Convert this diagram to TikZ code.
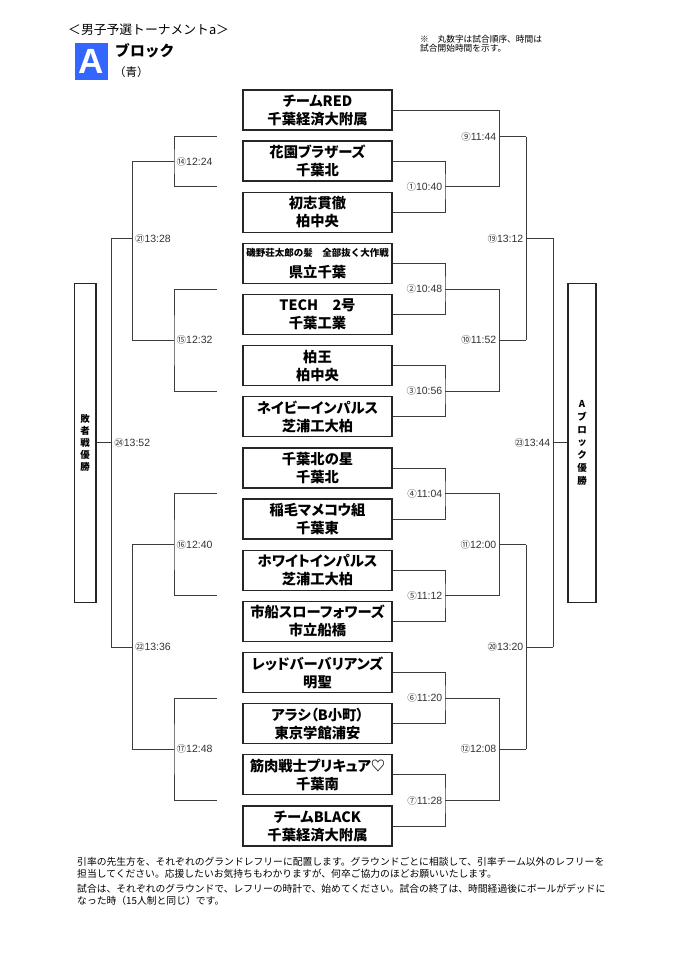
\documentclass[tikz,border=0pt]{standalone}
\usepackage{fontspec}
\setmainfont{Liberation Sans}
\newfontfamily\jp{Noto Sans CJK JP}
\newfontfamily\jpp[RawFeature=+palt]{Noto Sans CJK JP}
\usetikzlibrary{calc}
\definecolor{blockblue}{RGB}{51,102,255}
\definecolor{wirecol}{RGB}{60,60,60}
\newcommand\cn[1]{{\jp\fontsize{9.5}{10}\selectfont #1}}
\tikzset{
  team/.style={draw=black!85, line width=1.3pt, minimum width=149pt, minimum height=40pt,
    inner sep=0pt, align=center, font=\jpp\bfseries\fontsize{14.3}{18}\selectfont},
  sidebox/.style={draw=black!85, line width=1.3pt, inner sep=0pt, align=center},
  wire/.style={draw=wirecol, line width=0.9pt},
  lblR/.style={anchor=east, inner sep=1pt, text=black!80, font=\fontsize{10.5}{12}\selectfont},
  lblL/.style={anchor=west, inner sep=1pt, text=black!80, font=\fontsize{10.5}{12}\selectfont},
  txt/.style={inner sep=0pt}
}
\begin{document}
\begin{tikzpicture}[x=1pt,y=-1pt]
\useasboundingbox (0,0) rectangle (678,960);
\fill[white] (0,0) rectangle (678,960);

% header
\node[txt, anchor=west, font=\jp\fontsize{12.8}{14}\selectfont] (hdr) at (68,30) {＜男子予選トーナメントa＞};
\node[fill=blockblue, minimum width=33pt, minimum height=37pt, inner sep=0pt,
  font=\fontsize{35}{35}\selectfont\bfseries, text=white] (blk) at (91.5,61.5) {A};
\node[txt, anchor=west, font=\jp\bfseries\fontsize{14.8}{16}\selectfont] (blkname) at (115,51) {ブロック};
\node[txt, anchor=west, font=\jp\fontsize{11.5}{12}\selectfont] (blkcol) at (114,72.5) {（青）};
\node[txt, anchor=west, align=left, font=\jp\fontsize{8.7}{9.3}\selectfont] (note) at (420,43.5)
  {※　丸数字は試合順序、時間は\\試合開始時間を示す。};

% team boxes
\node[team] (t1) at (317.5,110.0) {チームRED\\千葉経済大附属};
\node[team] (t2) at (317.5,161.1) {花園ブラザーズ\\千葉北};
\node[team] (t3) at (317.5,212.3) {初志貫徹\\柏中央};
\node[team] (t4) at (317.5,263.4) {{\jp\fontsize{9.5}{12}\selectfont\bfseries 磯野荘太郎の髪　全部抜く大作戦}\\[3pt]県立千葉};
\node[team] (t5) at (317.5,314.6) {TECH　2号\\千葉工業};
\node[team] (t6) at (317.5,365.7) {柏王\\柏中央};
\node[team] (t7) at (317.5,416.8) {ネイビーインパルス\\芝浦工大柏};
\node[team] (t8) at (317.5,468.0) {千葉北の星\\千葉北};
\node[team] (t9) at (317.5,519.1) {稲毛マメコウ組\\千葉東};
\node[team] (t10) at (317.5,570.3) {ホワイトインパルス\\芝浦工大柏};
\node[team] (t11) at (317.5,621.4) {市船スローフォワーズ\\市立船橋};
\node[team] (t12) at (317.5,672.5) {レッドバーバリアンズ\\明聖};
\node[team] (t13) at (317.5,723.7) {アラシ（B小町）\\東京学館浦安};
\node[team] (t14) at (317.5,774.8) {筋肉戦士プリキュア♡\\千葉南};
\node[team] (t15) at (317.5,826.0) {チームBLACK\\千葉経済大附属};

% side boxes
\node[sidebox, minimum width=21.7pt, minimum height=319pt, font=\jp\bfseries\fontsize{9.5}{12.2}\selectfont] (lose) at (85.2,442.8)
  {敗\\者\\戦\\優\\勝};
\node[sidebox, minimum width=28pt, minimum height=319pt, font=\jp\bfseries\fontsize{9.5}{12.8}\selectfont] (win) at (582,442.8)
  {A\\ブ\\ロ\\ッ\\ク\\優\\勝};

% ---- right side coordinates
\coordinate (j1) at (445,186.7);
\coordinate (j2) at (445,289.0);
\coordinate (j3) at (445,391.3);
\coordinate (j4) at (445,493.6);
\coordinate (j5) at (445,595.9);
\coordinate (j6) at (445,698.1);
\coordinate (j7) at (445,800.4);
\coordinate (k1) at (499,186.7);
\coordinate (k2) at (499,289.0);
\coordinate (k3) at (499,391.3);
\coordinate (k4) at (499,493.6);
\coordinate (k5) at (499,595.9);
\coordinate (k6) at (499,698.1);
\coordinate (k7) at (499,800.4);
\coordinate (j9) at (499,136.7);
\coordinate (j10) at (499,340.2);
\coordinate (j11) at (499,544.8);
\coordinate (j12) at (499,749.3);
\coordinate (k9) at (526,136.7);
\coordinate (k10) at (526,340.2);
\coordinate (k11) at (526,544.8);
\coordinate (k12) at (526,749.3);
\coordinate (j19) at (526,238.4);
\coordinate (j20) at (526,647.0);
\coordinate (k19) at (553,238.4);
\coordinate (k20) at (553,647.0);
\coordinate (j23) at (553,442.8);

% first round (right)
\draw[wire] (t2.east) -| (j1) |- (t3.east);
\draw[wire] (t4.east) -| (j2) |- (t5.east);
\draw[wire] (t6.east) -| (j3) |- (t7.east);
\draw[wire] (t8.east) -| (j4) |- (t9.east);
\draw[wire] (t10.east) -| (j5) |- (t11.east);
\draw[wire] (t12.east) -| (j6) |- (t13.east);
\draw[wire] (t14.east) -| (j7) |- (t15.east);
% second round (right)
\draw[wire] (t1.east) -| (k1) -- (j1);
\draw[wire] (j2) -- (k2) -- (k3) -- (j3);
\draw[wire] (j4) -- (k4) -- (k5) -- (j5);
\draw[wire] (j6) -- (k6) -- (k7) -- (j7);
\draw[wire] (j9) -- (k9);
\draw[wire] (j10) -- (k10);
\draw[wire] (j11) -- (k11);
\draw[wire] (j12) -- (k12);
% third round (right)
\draw[wire] (k9) -- (k10);
\draw[wire] (k11) -- (k12);
\draw[wire] (j19) -- (k19);
\draw[wire] (j20) -- (k20);
\draw[wire] (k19) -- (k20);
\draw[wire] (j23) -- (win.west |- j23);

% right labels
\node[lblR] (l1) at ($(j1)+(-1.5,0)$) {\cn{①}10:40};
\node[lblR] (l2) at ($(j2)+(-1.5,0)$) {\cn{②}10:48};
\node[lblR] (l3) at ($(j3)+(-1.5,0)$) {\cn{③}10:56};
\node[lblR] (l4) at ($(j4)+(-1.5,0)$) {\cn{④}11:04};
\node[lblR] (l5) at ($(j5)+(-1.5,0)$) {\cn{⑤}11:12};
\node[lblR] (l6) at ($(j6)+(-1.5,0)$) {\cn{⑥}11:20};
\node[lblR] (l7) at ($(j7)+(-1.5,0)$) {\cn{⑦}11:28};
\node[lblR] (l9) at ($(j9)+(-1.5,0)$) {\cn{⑨}11:44};
\node[lblR] (l10) at ($(j10)+(-1.5,0)$) {\cn{⑩}11:52};
\node[lblR] (l11) at ($(j11)+(-1.5,0)$) {\cn{⑪}12:00};
\node[lblR] (l12) at ($(j12)+(-1.5,0)$) {\cn{⑫}12:08};
\node[lblR] (l19) at ($(j19)+(-1.5,0)$) {\cn{⑲}13:12};
\node[lblR] (l20) at ($(j20)+(-1.5,0)$) {\cn{⑳}13:20};
\node[lblR] (l23) at ($(j23)+(-1.5,0)$) {\cn{㉓}13:44};

% ---- left side coordinates
\coordinate (s1a) at (216.7,136.7);
\coordinate (s1b) at (216.7,186.7);
\coordinate (s2a) at (216.7,289.0);
\coordinate (s2b) at (216.7,391.3);
\coordinate (s3a) at (216.7,493.6);
\coordinate (s3b) at (216.7,595.9);
\coordinate (s4a) at (216.7,698.1);
\coordinate (s4b) at (216.7,800.4);
\coordinate (p14) at (174,161.7);
\coordinate (p15) at (174,340.2);
\coordinate (p16) at (174,544.8);
\coordinate (p17) at (174,749.3);
\coordinate (q14) at (132.3,161.7);
\coordinate (q15) at (132.3,340.2);
\coordinate (q16) at (132.3,544.8);
\coordinate (q17) at (132.3,749.3);
\coordinate (p21) at (132.3,238.4);
\coordinate (p22) at (132.3,647.0);
\coordinate (q21) at (111.7,238.4);
\coordinate (q22) at (111.7,647.0);
\coordinate (p24) at (111.7,442.8);

\draw[wire] (s1a) -| (p14) |- (s1b);
\draw[wire] (s2a) -| (p15) |- (s2b);
\draw[wire] (s3a) -| (p16) |- (s3b);
\draw[wire] (s4a) -| (p17) |- (s4b);
\draw[wire] (p14) -- (q14) -- (q15) -- (p15);
\draw[wire] (p16) -- (q16) -- (q17) -- (p17);
\draw[wire] (p21) -- (q21) -- (q22) -- (p22);
\draw[wire] (p24) -- (lose.east |- p24);

% left labels
\node[lblL] (l14) at ($(p14)+(1.5,0)$) {\cn{⑭}12:24};
\node[lblL] (l15) at ($(p15)+(1.5,0)$) {\cn{⑮}12:32};
\node[lblL] (l16) at ($(p16)+(1.5,0)$) {\cn{⑯}12:40};
\node[lblL] (l17) at ($(p17)+(1.5,0)$) {\cn{⑰}12:48};
\node[lblL] (l21) at ($(p21)+(1.5,0)$) {\cn{㉑}13:28};
\node[lblL] (l22) at ($(p22)+(1.5,0)$) {\cn{㉒}13:36};
\node[lblL] (l24) at ($(p24)+(1.5,0)$) {\cn{㉔}13:52};

% bottom notes
\node[txt, anchor=west, align=left, font=\jp\fontsize{9.8}{12}\selectfont] (para1) at (77,867.5)
  {引率の先生方を、それぞれのグランドレフリーに配置します。グラウンドごとに相談して、引率チーム以外のレフリーを\\担当してください。応援したいお気持ちもわかりますが、何卒ご協力のほどお願いいたします。};
\node[txt, anchor=west, align=left, font=\jp\fontsize{9.8}{12}\selectfont] (para2) at (77,895)
  {試合は、それぞれのグラウンドで、レフリーの時計で、始めてください。試合の終了は、時間経過後にボールがデッドに\\なった時（15人制と同じ）です。};
\end{tikzpicture}
\end{document}
